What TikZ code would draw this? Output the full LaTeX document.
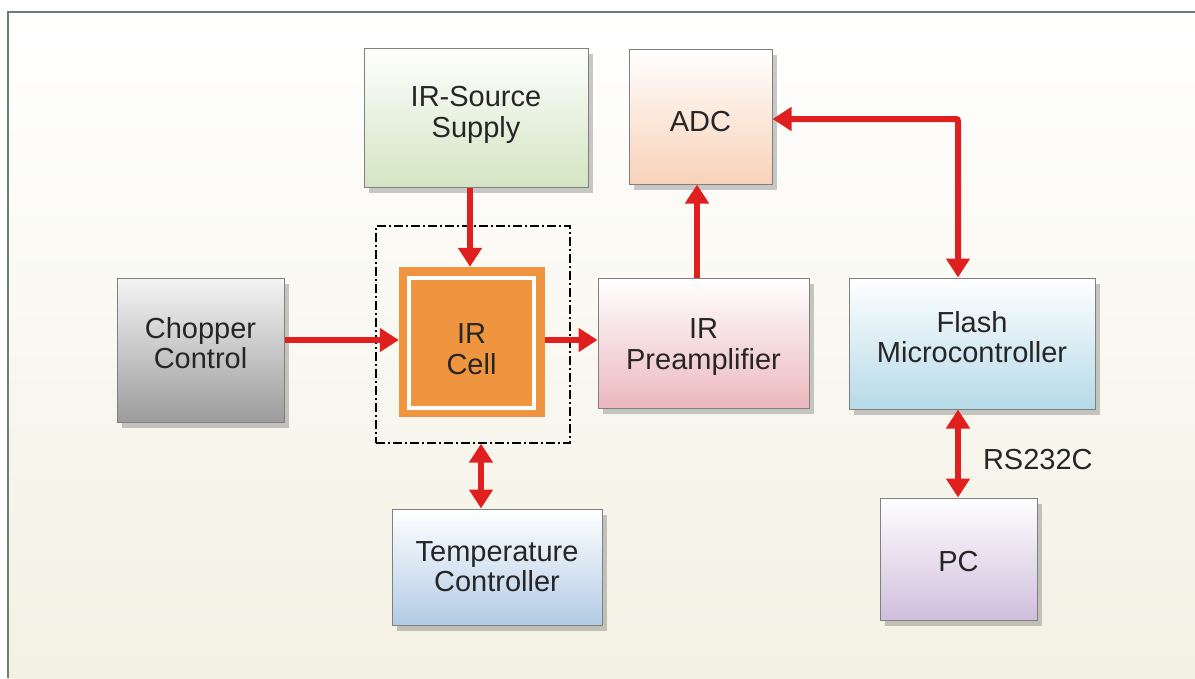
\documentclass[tikz,border=0pt]{standalone}
\usepackage{fontspec}
\setmainfont{Liberation Sans}
\usetikzlibrary{arrows.meta,shadows,positioning}
\definecolor{arrowred}{HTML}{E0201F}
\definecolor{boxborder}{HTML}{7F8080}
\definecolor{txt}{HTML}{262626}
\definecolor{bgbottom}{HTML}{F3F1E3}
\definecolor{framecol}{HTML}{6E7E72}
\definecolor{cellorange}{HTML}{F0953F}
\definecolor{cgreen}{HTML}{D3E4C2}
\definecolor{cpeach}{HTML}{F8D2B8}
\definecolor{cgraytop}{HTML}{F4F4F4}
\definecolor{cgraybot}{HTML}{9C9C9C}
\definecolor{cpink}{HTML}{EBB8BE}
\definecolor{ccyan}{HTML}{B5DAE8}
\definecolor{cblue}{HTML}{B3CBE6}
\definecolor{clav}{HTML}{CFBEDC}
\newcommand\blktxt[2]{\raisebox{#1}[\height][\depth]{\begin{tabular}{@{}c@{}}#2\end{tabular}}}
\begin{document}
\begin{tikzpicture}[x=1pt,y=-1pt,
  lbl/.style={font=\fontsize{29}{30}\selectfont, text=txt},
  blk/.style={draw=boxborder, line width=1pt, inner sep=0pt, lbl,
    drop shadow={shadow xshift=5pt, shadow yshift=-6pt, opacity=0.3, fill=black!70}},
  con/.style={draw=arrowred, line width=6pt, -{Triangle[length=19pt,width=23pt]}},
  bicon/.style={draw=arrowred, line width=6pt, {Triangle[length=19pt,width=23pt]}-{Triangle[length=19pt,width=23pt]}}
]
\useasboundingbox (0,0) rectangle (1195,678);
\shade[top color=white, bottom color=bgbottom] (8,12) rectangle (1195,678);
\draw[framecol, line width=2pt] (8,678) -- (8,12) -- (1195,12);

% blocks
\node[blk, minimum width=224pt, minimum height=139pt, top color=white, bottom color=cgreen] (src) at (476,117.5) {\blktxt{1.5pt}{IR-Source\\Supply}};
\node[blk, minimum width=143pt, minimum height=135pt, top color=white, bottom color=cpeach] (adc) at (700.5,116.5) {\blktxt{-8.5pt}{ADC}};
\node[blk, minimum width=167pt, minimum height=144pt, top color=cgraytop, bottom color=cgraybot] (chop) at (200.5,350) {\blktxt{2.5pt}{Chopper\\Control}};
\node[blk, minimum width=211pt, minimum height=130pt, top color=white, bottom color=cpink] (pre) at (703.5,343) {\blktxt{-5pt}{IR\\Preamplifier}};
\node[blk, minimum width=246pt, minimum height=131pt, top color=white, bottom color=ccyan] (mcu) at (972,343.5) {\blktxt{2.5pt}{Flash\\Microcontroller}};
\node[blk, minimum width=210pt, minimum height=116pt, top color=white, bottom color=cblue] (temp) at (497,567) {\blktxt{-3pt}{Temperature\\Controller}};
\node[blk, minimum width=157pt, minimum height=122pt, top color=white, bottom color=clav] (pc) at (958.5,559) {\blktxt{-6pt}{PC}};

% IR cell
\node[draw=black, line width=1.3pt, dash pattern=on 9pt off 3pt on 2pt off 3pt, minimum width=194pt, minimum height=217pt] (enc) at (473,334.5) {};
\node[fill=cellorange, minimum width=146pt, minimum height=150pt, inner sep=0pt] (cell) at (472,342) {};
\node[draw=white, line width=4pt, minimum width=125pt, minimum height=130pt, inner sep=0pt, lbl] (cellin) at (471.5,343) {\blktxt{-10pt}{IR\\Cell}};

% connectors
\draw[con] (chop.east |- 0,340) -- (cell.west |- 0,340);
\draw[con] (src.south -| 470,0) -- (cell.north -| 470,0);
\draw[con] (cell.east |- 0,340) -- (pre.west |- 0,340);
\draw[con] (pre.north -| 697,0) -- (adc.south -| 697,0);
\coordinate (bend) at (958,119);
\draw[bicon, rounded corners=2pt] (adc.east |- bend) -- (bend) -- (mcu.north -| bend);
\draw[bicon] (enc.south -| 481,0) -- (temp.north -| 481,0);
\draw[bicon] (mcu.south -| 958,0) -- node[right=22pt, yshift=-6pt, lbl, inner sep=0pt] (rs) {RS232C} (pc.north -| 958,0);
\end{tikzpicture}
\end{document}
